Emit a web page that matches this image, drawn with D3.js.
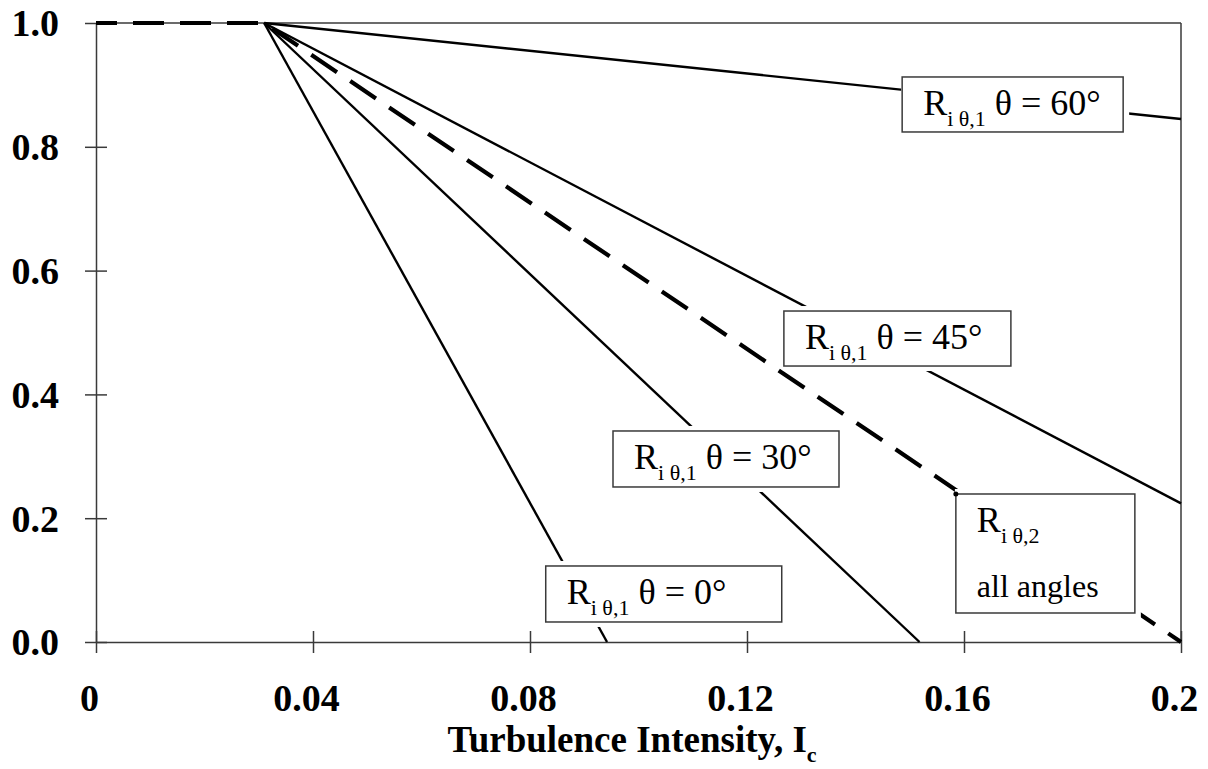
<!DOCTYPE html>
<html><head><meta charset="utf-8">
<script src="https://cdn.jsdelivr.net/npm/d3@7"></script>
<style>body{margin:0;background:#fff} svg{display:block}</style>
</head><body><svg id="c" width="1208" height="769"></svg>
<script>
// ---- data ----
const xTicks = [0, 0.04, 0.08, 0.12, 0.16, 0.2];
const xTickLabels = ["0", "0.04", "0.08", "0.12", "0.16", "0.2"];
const yTicks = [0, 0.2, 0.4, 0.6, 0.8, 1.0];
const yTickLabels = ["0.0", "0.2", "0.4", "0.6", "0.8", "1.0"];
const xTitle = "Turbulence Intensity, I";
const xTitleSub = "c";

// R_i theta,1 curves (x = turbulence intensity, y = ratio)
const series0deg  = [[0.031, 1], [0.0942, 0]];
const series30deg = [[0.031, 1], [0.1518, 0]];
const series45deg = [[0.031, 1], [0.2, 0.224]];
const series60deg = [[0.031, 1], [0.2, 0.845]];
// R_i theta,2 all angles (dashed)
const seriesAll   = [[0, 1], [0.031, 1], [0.2, 0]];

const labelMain = ["R", "R", "R", "R", "R"];
const labelSub  = ["i θ,1", "i θ,1", "i θ,1", "i θ,1", "i θ,2"];
const labelTail = ["θ = 0°", "θ = 30°", "θ = 45°", "θ = 60°", ""];
const labelLine2 = ["", "", "", "", "all angles"];

// ---- layout ----
const svg = d3.select("#c");
const x = d3.scaleLinear().domain([0, 0.2]).range([96, 1181]);
const y = d3.scaleLinear().domain([0, 1]).range([642, 23]);
const FONT = "'Liberation Serif','Times New Roman',serif";
const AX = "#3a3a3a";

// frame (top & right)
svg.append("line").attr("x1", x(0)).attr("x2", x(0.2)).attr("y1", y(1)).attr("y2", y(1))
  .attr("stroke", AX).attr("stroke-width", 1.3);
svg.append("line").attr("x1", x(0.2)).attr("x2", x(0.2)).attr("y1", y(1)).attr("y2", y(0))
  .attr("stroke", AX).attr("stroke-width", 1.5);

// axes
const gx = svg.append("g").attr("transform", `translate(0,${y(0)})`)
  .call(d3.axisBottom(x).tickValues(xTicks).tickFormat((d, i) => xTickLabels[i]).tickSize(0).tickPadding(0));
gx.select(".domain").attr("stroke", AX).attr("stroke-width", 1.5);
gx.selectAll(".tick line").attr("y1", -11).attr("y2", 11).attr("stroke", AX).attr("stroke-width", 1.5);
gx.selectAll(".tick text").attr("dy", null).attr("y", 69).attr("x", -7)
  .style("font-family", FONT).style("font-size", "38px").style("font-weight", "bold").attr("fill", "#000");

const gy = svg.append("g").attr("transform", `translate(${x(0)},0)`)
  .call(d3.axisLeft(y).tickValues(yTicks).tickFormat((d, i) => yTickLabels[i]).tickSize(0).tickPadding(0));
gy.select(".domain").attr("stroke", AX).attr("stroke-width", 1.5);
gy.selectAll(".tick line").attr("x1", -11).attr("x2", 11).attr("stroke", AX).attr("stroke-width", 1.5);
gy.selectAll(".tick text").attr("x", -37).attr("dy", "0.34em")
  .style("font-family", FONT).style("font-size", "38px").style("font-weight", "bold").attr("fill", "#000");

// lines
const line = d3.line().x(d => x(d[0])).y(d => y(d[1]));
const solid = [series0deg, series30deg, series45deg, series60deg];
svg.append("g").selectAll("path").data(solid).join("path")
  .attr("d", line).attr("fill", "none").attr("stroke", "#000").attr("stroke-width", 2.4);
svg.append("path").datum(seriesAll).attr("d", line).attr("fill", "none")
  .attr("stroke", "#000").attr("stroke-width", 4.2).attr("stroke-dasharray", "31,16")
  .attr("stroke-dashoffset", 10);

// annotation boxes (top-left anchors in data units)
const boxAnchors = [[0.0829, 0.1228], [0.0953, 0.3409], [0.1268, 0.5347], [0.1486, 0.9128], [0.1585, 0.2391]];
const boxSizes = [[236, 56], [226, 56], [227, 55], [221, 55], [179, 119]];

const ann = svg.append("g");
boxAnchors.forEach((a, i) => {
  const bx = x(a[0]), by = y(a[1]);
  const [bw, bh] = boxSizes[i];
  const g = ann.append("g").attr("transform", `translate(${bx},${by})`);
  g.append("rect").attr("x", -1).attr("y", -5).attr("width", bw + 7).attr("height", bh + 10).attr("fill", "#fff");
  g.append("rect").attr("width", bw).attr("height", bh).attr("fill", "#fff")
    .attr("stroke", AX).attr("stroke-width", 1.5);
  const t = g.append("text").attr("x", 21).attr("y", 38)
    .style("font-family", FONT).style("font-size", "36px").attr("fill", "#000");
  t.append("tspan").text(labelMain[i]);
  t.append("tspan").attr("dy", 11).style("font-size", "22px").text(labelSub[i]);
  if (labelTail[i]) t.append("tspan").attr("dy", -11).text("\u00a0" + labelTail[i]);
  if (labelLine2[i]) {
    g.append("text").attr("x", 21).attr("y", 103)
      .style("font-family", FONT).style("font-size", "32px").attr("fill", "#000").text(labelLine2[i]);
    g.append("circle").attr("r", 2.5).attr("fill", "#000");
  }
});

// x title
const tt = svg.append("text").attr("x", 632).attr("y", 752).attr("text-anchor", "middle")
  .style("font-family", FONT).style("font-size", "37px").style("font-weight", "bold").attr("fill", "#000");
tt.append("tspan").text(xTitle);
tt.append("tspan").attr("dy", 10).style("font-size", "22px").text(xTitleSub);
</script>
</body></html>
